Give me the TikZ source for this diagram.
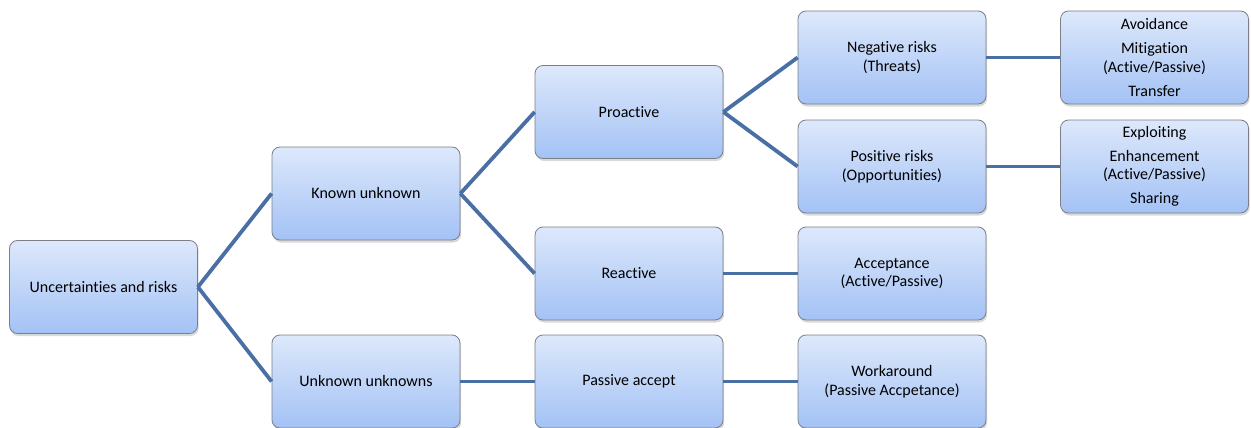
\documentclass[tikz,border=0pt]{standalone}
\usepackage{fontspec}
\setmainfont{Carlito}[Ligatures=NoCommon]
\usetikzlibrary{shadows}
\definecolor{boxtop}{HTML}{DDE8FB}
\definecolor{boxbot}{HTML}{A3C2F5}
\definecolor{boxline}{HTML}{7A7F88}
\definecolor{conn}{HTML}{4A6FA5}
\tikzset{
  rbox/.style={rectangle, rounded corners=8pt, draw=boxline, line width=0.8pt,
    top color=boxtop, bottom color=boxbot, minimum width=188pt, minimum height=93pt,
    inner sep=0pt, align=center, font=\fontsize{16pt}{18.5pt}\selectfont,
    drop shadow={opacity=0.3, shadow xshift=1.2pt, shadow yshift=-2.5pt}},
  link/.style={draw=conn, line width=3.8pt}
}
\begin{document}
\begin{tikzpicture}[x=1pt,y=-1pt]
\useasboundingbox (0,0) rectangle (1251,428);
\node[rbox] (unc) at (103.5,287) {Uncertainties and risks};
\node[rbox] (ku) at (366,193.5) {Known unknown};
\node[rbox] (uu) at (366,381.5) {Unknown unknowns};
\node[rbox] (pro) at (629,112) {Proactive};
\node[rbox] (rea) at (629,273.5) {Reactive};
\node[rbox] (pa) at (629,381.5) {Passive accept};
\node[rbox] (neg) at (892,57.5) {Negative risks\\(Threats)};
\node[rbox] (pos) at (892,166.5) {Positive risks\\(Opportunities)};
\node[rbox] (acc) at (892,273.5) {Acceptance\\(Active/Passive)};
\node[rbox] (wa) at (892,381.5) {Workaround\\(Passive Accpetance)};
\node[rbox] (avo) at (1154.5,57.5) {Avoidance\\[5.5pt]Mitigation\\(Active/Passive)\\[5.5pt]Transfer};
\node[rbox] (exp) at (1154.5,166.5) {Exploiting\\[5.5pt]Enhancement\\(Active/Passive)\\[5.5pt]Sharing};
\draw[link] (unc.east) -- (ku.west);
\draw[link] (unc.east) -- (uu.west);
\draw[link] (ku.east) -- (pro.west);
\draw[link] (ku.east) -- (rea.west);
\draw[link] (uu.east) -- (pa.west);
\draw[link] (pro.east) -- (neg.west);
\draw[link] (pro.east) -- (pos.west);
\draw[link] (rea.east) -- (acc.west);
\draw[link] (pa.east) -- (wa.west);
\draw[link] (neg.east) -- (avo.west);
\draw[link] (pos.east) -- (exp.west);
\end{tikzpicture}
\end{document}
